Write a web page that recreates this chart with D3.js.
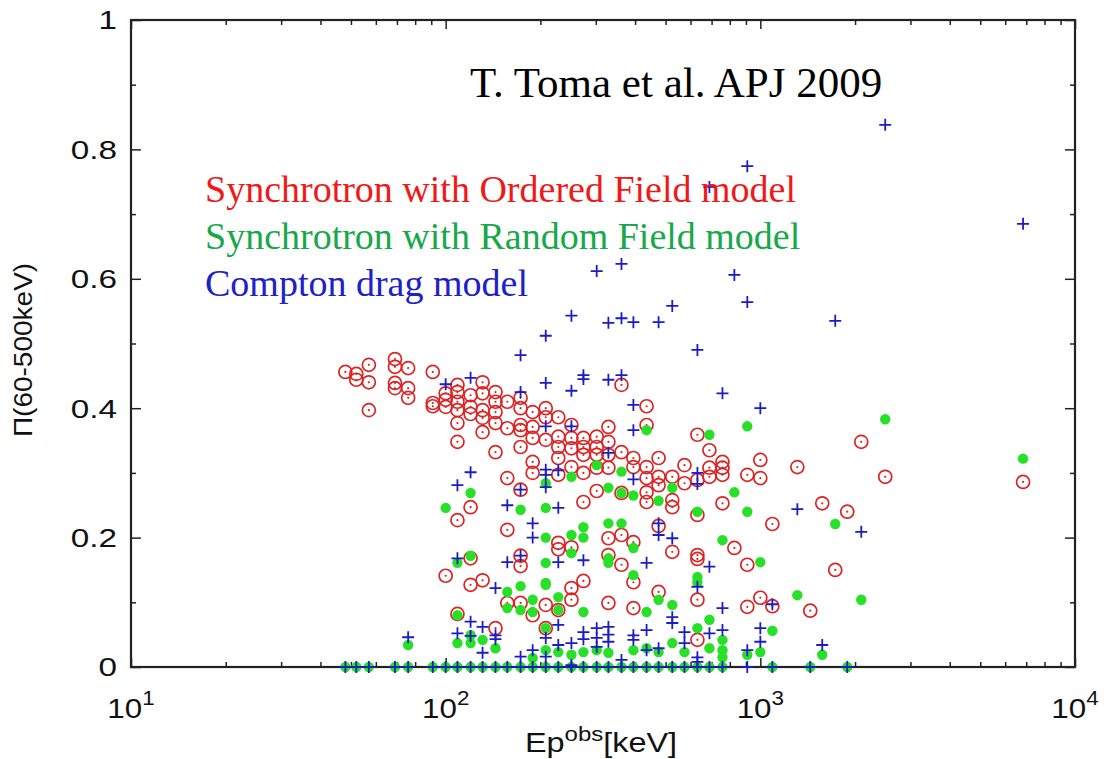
<!DOCTYPE html>
<html>
<head>
<meta charset="utf-8">
<script src="https://cdn.jsdelivr.net/npm/d3@7"></script>
<style>
  body { margin: 0; background: #fff; }
  svg { display: block; }
</style>
</head>
<body>
<div id="chart"></div>
<script>
// Ep (keV), polarisation degree
var ordered = [
  [48,0.456],[52,0.453],[52,0.444],[57,0.467],[57,0.44],[57,0.397],
  [69,0.476],[69,0.464],[69,0.439],[69,0.431],
  [76,0.462],[76,0.431],[76,0.416],
  [91,0.456],[91,0.408],[91,0.403],
  [100,0.423],[100,0.413],[100,0.402],[100,0.141],
  [109,0.436],[109,0.425],[109,0.41],[109,0.397],[109,0.377],[109,0.348],[109,0.227],[109,0.082],
  [120,0.42],[120,0.402],[120,0.391],[120,0.247],[120,0.168],[120,0.127],
  [131,0.44],[131,0.423],[131,0.397],[131,0.385],[131,0.363],[131,0.134],
  [144,0.425],[144,0.41],[144,0.394],[144,0.377],[144,0.332],[144,0.06],
  [157,0.41],[157,0.369],[157,0.292],[157,0.212],[157,0.099],
  [173,0.416],[173,0.4],[173,0.374],[173,0.366],[173,0.34],[173,0.274],[173,0.172],[173,0.156],[173,0.099],
  [189,0.394],[189,0.371],[189,0.354],[189,0.317],[189,0.3],[189,0.08],
  [208,0.4],[208,0.386],[208,0.351],[208,0.096],[208,0.06],
  [228,0.386],[228,0.356],[228,0.34],[228,0.323],[228,0.297],[228,0.192],[228,0.182],[228,0.088],
  [251,0.374],[251,0.354],[251,0.338],[251,0.309],[251,0.185],[251,0.122],[251,0.104],
  [274,0.354],[274,0.34],[274,0.328],[274,0.3],[274,0.255],[274,0.133],
  [302,0.356],[302,0.34],[302,0.328],[302,0.308],[302,0.272],
  [329,0.371],[329,0.348],[329,0.328],[329,0.308],[329,0.199],[329,0.173],[329,0.099],
  [362,0.436],[362,0.332],[362,0.269],[362,0.204],[362,0.158],
  [395,0.323],[395,0.309],[395,0.193],[395,0.131],[395,0.091],
  [435,0.403],[435,0.374],[435,0.309],[435,0.292],[435,0.27],[435,0.255],
  [475,0.323],[475,0.294],[475,0.281],[475,0.218],[475,0.116],
  [525,0.294],[525,0.258],[525,0.247],[525,0.178],
  [574,0.312],[574,0.284],
  [631,0.359],[631,0.289],[631,0.235],[631,0.173],[631,0.167],[631,0.104],[631,0.042],
  [689,0.335],[689,0.308],[689,0.294],
  [758,0.317],[758,0.308],[758,0.297],[758,0.253],
  [827,0.184],
  [909,0.297],[909,0.158],[909,0.093],
  [1000,0.32],[1000,0.292],[1000,0.107],
  [1092,0.221],[1092,0.094],
  [1311,0.309],[1441,0.087],[1573,0.253],[1730,0.15],[1889,0.24],[2093,0.348],[2494,0.294],[6838,0.286]
];

var random = [
  [100,0.246],[120,0.269],[173,0.243],[208,0.246],[208,0.284],
  [435,0.366],[689,0.359],[909,0.372],[302,0.312],[362,0.302],[251,0.294],[329,0.277],[362,0.269],
  [395,0.265],[475,0.257],[525,0.277],[631,0.24],[827,0.27],[909,0.24],[274,0.216],[329,0.222],[362,0.222],
  [120,0.172],[109,0.161],[157,0.116],[173,0.125],[189,0.104],[157,0.091],[173,0.088],[189,0.085],
  [109,0.08],[208,0.161],[208,0.127],[208,0.06],[76,0.034],[109,0.037],[120,0.037],[131,0.042],
  [144,0.029],[120,0.049],[189,0.014],
  [208,0.2],[251,0.204],[274,0.2],[251,0.176],[208,0.13],[329,0.168],[329,0.161],[395,0.184],[395,0.142],
  [758,0.196],[1000,0.162],[631,0.139],[631,0.131],[475,0.104],[525,0.096],[435,0.085],[274,0.085],
  [228,0.108],[228,0.088],[689,0.073],[631,0.06],[758,0.042],[525,0.037],[574,0.023],[689,0.029],
  [758,0.026],[758,0.015],[909,0.019],[1000,0.023],[208,0.026],[228,0.023],[251,0.019],[274,0.023],
  [302,0.026],[329,0.022],[395,0.026],[435,0.029],[475,0.023],
  [2494,0.383],[6838,0.322],[1730,0.221],[1311,0.111],[2093,0.104],[1092,0.056],[1573,0.019]
];

var compton = [
  [6838,0.685],[2494,0.838],[909,0.774],[689,0.742],[827,0.606],[909,0.564],[1730,0.535],
  [302,0.612],[362,0.623],[251,0.543],[208,0.512],[173,0.482],[329,0.532],[362,0.539],[395,0.533],
  [475,0.533],[525,0.558],[631,0.49],[274,0.451],[274,0.445],[208,0.439],[100,0.437],[120,0.447],
  [173,0.425],[251,0.427],[329,0.444],[362,0.451],[758,0.423],[1000,0.4],[395,0.405],[395,0.366],
  [251,0.372],[208,0.372],[329,0.331],[208,0.305],[208,0.297],[208,0.278],[228,0.304],[631,0.3],
  [631,0.283],[395,0.29],[228,0.246],[475,0.222],[120,0.301],[109,0.281],[157,0.25],[173,0.274],
  [189,0.222],[109,0.168],[157,0.162],[173,0.172],[189,0.2],[144,0.122],[76,0.046],[109,0.052],
  [120,0.07],[120,0.048],[131,0.062],[144,0.049],[144,0.043],[131,0.022],[173,0.016],[189,0.026],
  [208,0.045],[208,0.016],
  [228,0.162],[274,0.165],[435,0.161],[475,0.204],[525,0.199],[631,0.124],[689,0.155],[758,0.091],
  [525,0.077],[525,0.068],[228,0.065],[228,0.034],[251,0.037],[274,0.054],[274,0.043],[302,0.06],
  [302,0.045],[302,0.031],[329,0.062],[329,0.05],[329,0.039],[395,0.049],[395,0.042],[435,0.057],
  [435,0.026],[475,0.029],[574,0.054],[574,0.037],[689,0.052],[758,0.057],[1000,0.06],[1000,0.039],
  [909,0.026],[631,0.015],[631,0.008],[362,0.011],[251,0.003],
  [1311,0.244],[2093,0.209],[1092,0.097],[1573,0.034]
];

// points sitting on zero polarisation
var randomZero = [48,52,57,69,76,91,100,109,120,131,144,157,173,189,208,228,251,274,302,329,362,395,435,475,525,574,631,689,758,1092,1441,1889];
var comptonZero = [48,52,57,69,76,91,100,109,120,131,144,157,173,189,208,228,251,274,302,329,362,395,435,475,525,574,631,689,758,909,1092,1441,1889];

var xMajor = [10, 100, 1000, 10000];
var xExp = ["1", "2", "3", "4"];
var yMajor = [0, 0.2, 0.4, 0.6, 0.8, 1];
var yLabels = ["0", "0.2", "0.4", "0.6", "0.8", "1"];

var legendItems = ["Synchrotron with Ordered Field model", "Synchrotron with Random Field model", "Compton drag model"];
var legendColors = ["#f01818", "#17a84a", "#2020c8"];

/////////////////////////////////////////////

var width = 1104, height = 759;
var margin = { top: 20, right: 29, bottom: 92, left: 131 };

var svg = d3.select("#chart").append("svg")
    .attr("width", width)
    .attr("height", height);

svg.append("rect").attr("width", width).attr("height", height).attr("fill", "#fff");

var x = d3.scaleLog().domain([10, 10000]).range([margin.left, width - margin.right]);
var y = d3.scaleLinear().domain([0, 1]).range([height - margin.bottom, margin.top]);

var xMinor = [];
for (var d = 10; d < 10000; d *= 10) for (var k = 2; k <= 9; k++) xMinor.push(d * k);
var yMinor = d3.range(0.1, 1, 0.2);

var axisColor = "#222";
var axes = svg.append("g");

function tickAxis(axisFn, scale, values, size, tx, ty) {
  axes.append("g")
    .attr("transform", "translate(" + tx + "," + ty + ")")
    .call(axisFn(scale).tickValues(values).tickSize(size).tickFormat(""))
    .call(g => g.select(".domain").remove())
    .call(g => g.selectAll(".tick line").attr("stroke", axisColor).attr("stroke-width", 1.5));
}
var x0 = margin.left, x1 = width - margin.right, y0 = height - margin.bottom, y1 = margin.top;
// inward ticks on all four sides
tickAxis(d3.axisBottom, x, xMajor, -9, 0, y0);
tickAxis(d3.axisBottom, x, xMinor, -5, 0, y0);
tickAxis(d3.axisTop, x, xMajor, -9, 0, y1);
tickAxis(d3.axisTop, x, xMinor, -5, 0, y1);
tickAxis(d3.axisLeft, y, yMajor, -10, x0, 0);
tickAxis(d3.axisLeft, y, yMinor, -5, x0, 0);
tickAxis(d3.axisRight, y, yMajor, -10, x1, 0);
tickAxis(d3.axisRight, y, yMinor, -5, x1, 0);

axes.append("rect")
    .attr("x", x0).attr("y", y1)
    .attr("width", x1 - x0).attr("height", y0 - y1)
    .attr("fill", "none").attr("stroke", axisColor).attr("stroke-width", 2.2);

// tick labels (the source picture is a little stretched sideways)
var sans = "'Liberation Sans', Arial, sans-serif";
svg.append("g").selectAll("text")
    .data(yMajor)
    .join("text")
    .attr("transform", d => "translate(" + (x0 - 14) + "," + y(d) + ") scale(1.28,1)")
    .attr("dy", "0.36em")
    .attr("text-anchor", "end")
    .attr("font-family", sans)
    .attr("font-size", 26)
    .attr("fill", "#111")
    .text((d, i) => yLabels[i]);

var xl = svg.append("g").selectAll("text")
    .data(xMajor)
    .join("text")
    .attr("transform", d => "translate(" + x(d) + "," + (y0 + 51) + ") scale(1.12,1)")
    .attr("text-anchor", "middle")
    .attr("font-family", sans)
    .attr("font-size", 28)
    .attr("fill", "#111");
xl.append("tspan").text("10");
xl.append("tspan").attr("dy", -13).attr("font-size", 20).text((d, i) => xExp[i]);

// axis titles
var xt = svg.append("text")
    .attr("transform", "translate(601,752) scale(1.2,1)")
    .attr("text-anchor", "middle")
    .attr("font-family", sans).attr("font-size", 27).attr("fill", "#111");
xt.append("tspan").text("Ep");
xt.append("tspan").attr("dy", -11).attr("font-size", 20).text("obs");
xt.append("tspan").attr("dy", 11).text("[keV]");

svg.append("text")
    .attr("transform", "translate(32,350) rotate(-90) scale(1.12,1)")
    .attr("text-anchor", "middle")
    .attr("font-family", sans).attr("font-size", 25).attr("fill", "#111")
    .text("\u03A0(60-500keV)");

// markers
var plot = svg.append("g");

var red = "#dc2424";
var rg = plot.append("g").selectAll("g")
    .data(ordered)
    .join("g")
    .attr("transform", d => "translate(" + x(d[0]) + "," + y(d[1]) + ")");
rg.append("circle").attr("r", 6.5).attr("fill", "none").attr("stroke", red).attr("stroke-width", 1.7);
rg.append("circle").attr("r", 1.1).attr("fill", red);

var greenPts = random.concat(randomZero.map(e => [e, 0]));
plot.append("g").selectAll("circle")
    .data(greenPts)
    .join("circle")
    .attr("cx", d => x(d[0]))
    .attr("cy", d => y(d[1]))
    .attr("r", 5.2)
    .attr("fill", "#27e027");

var bluePts = compton.concat(comptonZero.map(e => [e, 0]));
plot.append("g").selectAll("path")
    .data(bluePts)
    .join("path")
    .attr("transform", d => "translate(" + x(d[0]) + "," + y(d[1]) + ")")
    .attr("d", "M-6,0H6M0,-6V6")
    .attr("stroke", "#1c1cc4")
    .attr("stroke-width", 1.8)
    .attr("fill", "none");

// annotation + legend text
var serif = "'Liberation Serif', 'Times New Roman', serif";
svg.append("text")
    .attr("x", 470).attr("y", 97)
    .attr("font-family", serif).attr("font-size", 43).attr("fill", "#000")
    .text("T. Toma et al. APJ 2009");

svg.append("g").selectAll("text")
    .data(legendItems)
    .join("text")
    .attr("x", 205)
    .attr("y", (d, i) => 202 + i * 47)
    .attr("font-family", serif)
    .attr("font-size", 38)
    .attr("fill", (d, i) => legendColors[i])
    .text(d => d);
</script>
</body>
</html>
